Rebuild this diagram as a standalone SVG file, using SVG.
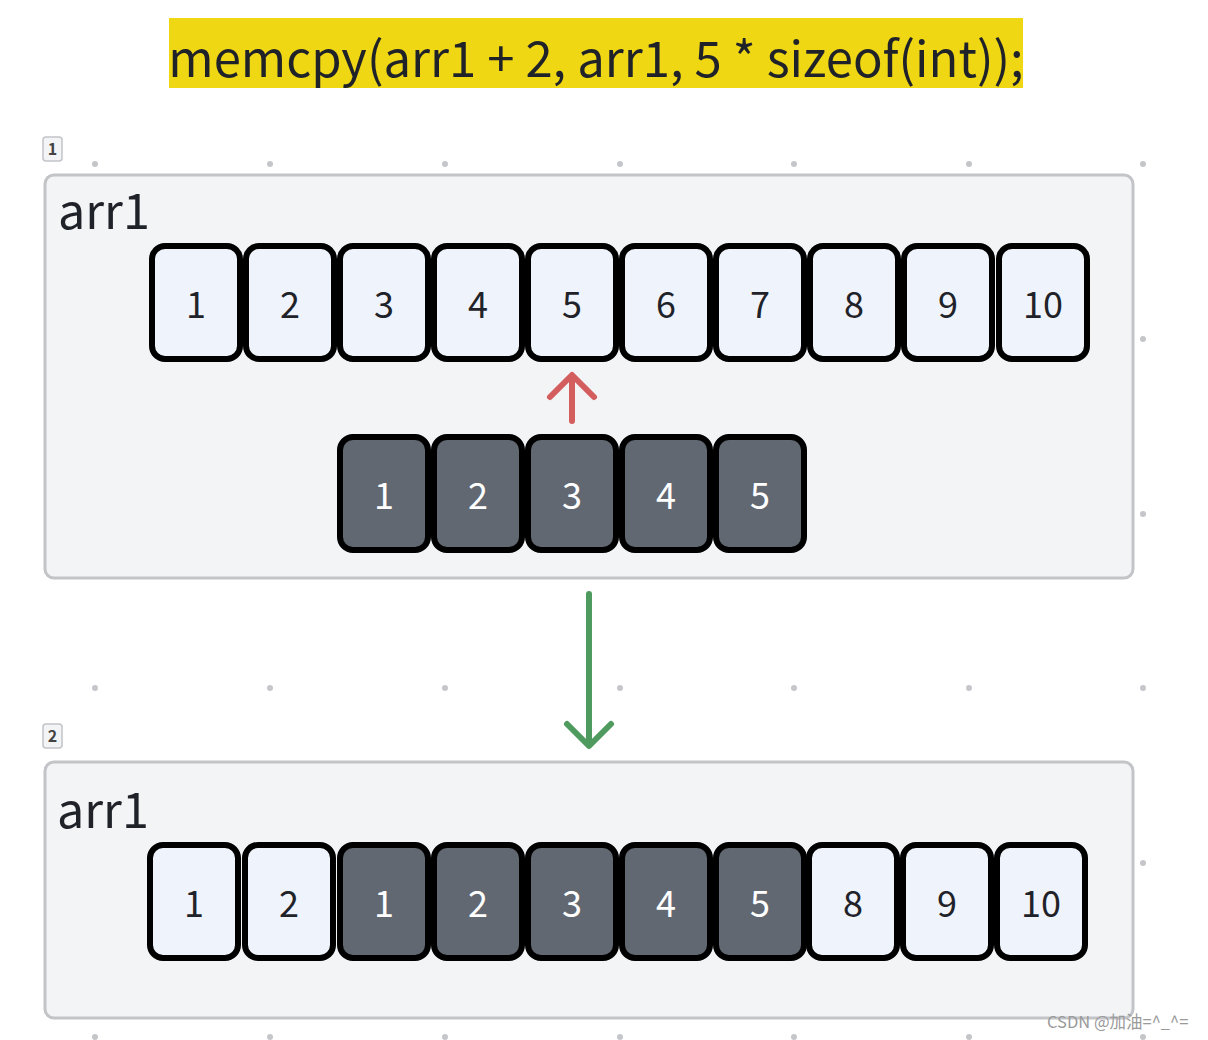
<svg xmlns="http://www.w3.org/2000/svg" width="1208" height="1040" viewBox="0 0 1208 1040">
<style>
text{font-family:"Noto Sans CJK SC","Noto Sans",sans-serif}
.frame{fill:#f3f4f6;stroke:#c2c4c8;stroke-width:3}
.tag{fill:#f3f4f6;stroke:#c2c4c8;stroke-width:1.5}
.tagt{font-size:16px;fill:#444;text-anchor:middle;font-weight:bold}
.lbl{font-size:48.5px;fill:#1f2329}
.c{stroke:#000;stroke-width:6}
.l{fill:#eff3fb}
.d{fill:#626872}
.n{font-size:36px;text-anchor:middle;fill:#1f2329}
.w{fill:#fff}
.dot{fill:#c4c6ca}
</style>
<rect width="1208" height="1040" fill="#fff"/>
<g id="grid">
<circle class="dot" cx="95" cy="164" r="3"/><circle class="dot" cx="270" cy="164" r="3"/><circle class="dot" cx="445" cy="164" r="3"/><circle class="dot" cx="620" cy="164" r="3"/><circle class="dot" cx="794" cy="164" r="3"/><circle class="dot" cx="969" cy="164" r="3"/><circle class="dot" cx="1143" cy="164" r="3"/>
<circle class="dot" cx="1143" cy="339" r="3"/><circle class="dot" cx="1143" cy="514" r="3"/>
<circle class="dot" cx="95" cy="688" r="3"/><circle class="dot" cx="270" cy="688" r="3"/><circle class="dot" cx="445" cy="688" r="3"/><circle class="dot" cx="620" cy="688" r="3"/><circle class="dot" cx="794" cy="688" r="3"/><circle class="dot" cx="969" cy="688" r="3"/><circle class="dot" cx="1143" cy="688" r="3"/>
<circle class="dot" cx="1143" cy="863" r="3"/>
<circle class="dot" cx="95" cy="1037" r="3"/><circle class="dot" cx="270" cy="1037" r="3"/><circle class="dot" cx="445" cy="1037" r="3"/><circle class="dot" cx="620" cy="1037" r="3"/><circle class="dot" cx="794" cy="1037" r="3"/><circle class="dot" cx="969" cy="1037" r="3"/><circle class="dot" cx="1143" cy="1037" r="3"/>
</g>
<g id="title">
<rect x="169" y="18" width="854" height="70" fill="#f0d714"/>
<text x="596" y="77" font-size="49" text-anchor="middle" fill="#1f2329">memcpy(arr1 + 2, arr1, 5 * sizeof(int));</text>
</g>
<g id="frame1">
<rect class="tag" x="43" y="137" width="19" height="24" rx="3"/>
<text class="tagt" x="52.5" y="155">1</text>
<rect class="frame" x="45" y="175" width="1088" height="403" rx="9"/>
<text class="lbl" x="58" y="229">arr1</text>
</g>
<g id="row1">
<rect class="c l" x="152" y="246" width="88" height="113" rx="13"/><text class="n" x="196" y="318">1</text>
<rect class="c l" x="246" y="246" width="88" height="113" rx="13"/><text class="n" x="290" y="318">2</text>
<rect class="c l" x="340" y="246" width="88" height="113" rx="13"/><text class="n" x="384" y="318">3</text>
<rect class="c l" x="434" y="246" width="88" height="113" rx="13"/><text class="n" x="478" y="318">4</text>
<rect class="c l" x="528" y="246" width="88" height="113" rx="13"/><text class="n" x="572" y="318">5</text>
<rect class="c l" x="622" y="246" width="88" height="113" rx="13"/><text class="n" x="666" y="318">6</text>
<rect class="c l" x="716" y="246" width="88" height="113" rx="13"/><text class="n" x="760" y="318">7</text>
<rect class="c l" x="810" y="246" width="88" height="113" rx="13"/><text class="n" x="854" y="318">8</text>
<rect class="c l" x="904" y="246" width="88" height="113" rx="13"/><text class="n" x="948" y="318">9</text>
<rect class="c l" x="999" y="246" width="88" height="113" rx="13"/><text class="n" x="1043" y="318">10</text>
</g>
<g id="src">
<rect class="c d" x="340" y="437" width="88" height="113" rx="13"/><text class="n w" x="384" y="509">1</text>
<rect class="c d" x="434" y="437" width="88" height="113" rx="13"/><text class="n w" x="478" y="509">2</text>
<rect class="c d" x="528" y="437" width="88" height="113" rx="13"/><text class="n w" x="572" y="509">3</text>
<rect class="c d" x="622" y="437" width="88" height="113" rx="13"/><text class="n w" x="666" y="509">4</text>
<rect class="c d" x="716" y="437" width="88" height="113" rx="13"/><text class="n w" x="760" y="509">5</text>
</g>
<g id="frame2">
<rect class="tag" x="43" y="724" width="19" height="24" rx="3"/>
<text class="tagt" x="52.5" y="742">2</text>
<rect class="frame" x="45" y="762" width="1088" height="256" rx="9"/>
<text class="lbl" x="57" y="828">arr1</text>
</g>
<g id="row2">
<rect class="c l" x="150" y="845" width="88" height="113" rx="13"/><text class="n" x="194" y="917">1</text>
<rect class="c l" x="245" y="845" width="88" height="113" rx="13"/><text class="n" x="289" y="917">2</text>
<rect class="c d" x="340" y="845" width="88" height="113" rx="13"/><text class="n w" x="384" y="917">1</text>
<rect class="c d" x="434" y="845" width="88" height="113" rx="13"/><text class="n w" x="478" y="917">2</text>
<rect class="c d" x="528" y="845" width="88" height="113" rx="13"/><text class="n w" x="572" y="917">3</text>
<rect class="c d" x="622" y="845" width="88" height="113" rx="13"/><text class="n w" x="666" y="917">4</text>
<rect class="c d" x="716" y="845" width="88" height="113" rx="13"/><text class="n w" x="760" y="917">5</text>
<rect class="c l" x="809" y="845" width="88" height="113" rx="13"/><text class="n" x="853" y="917">8</text>
<rect class="c l" x="903" y="845" width="88" height="113" rx="13"/><text class="n" x="947" y="917">9</text>
<rect class="c l" x="997" y="845" width="88" height="113" rx="13"/><text class="n" x="1041" y="917">10</text>
</g>
<g id="connectors" fill="none" stroke-linecap="round" stroke-linejoin="round" stroke-width="6">
<path d="M572 421V376M550 397L572 375L594 397" stroke="#d45d5d"/>
<path d="M589 594V745M567 724L589 746L611 724" stroke="#4f9a5e"/>
</g>
<text x="1047" y="1028" font-size="16.5" fill="#9a9a9a">CSDN @加油=^_^=</text>
</svg>
